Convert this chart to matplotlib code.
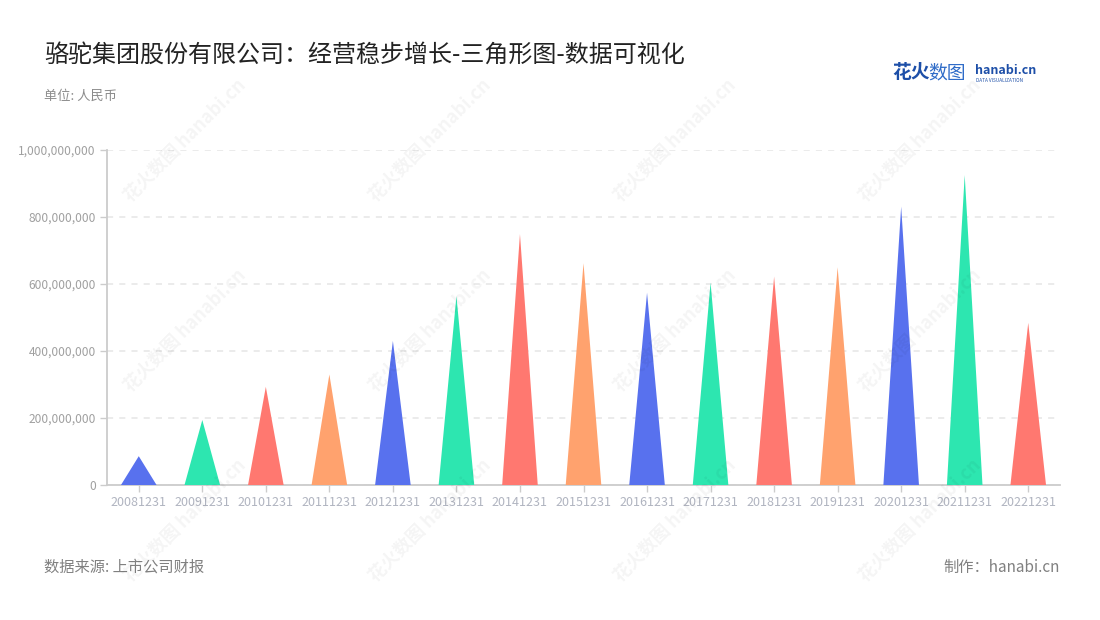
import matplotlib
matplotlib.use("Agg")
import matplotlib.pyplot as plt
from matplotlib.ticker import FuncFormatter

plt.rcParams['font.family'] = ['Noto Sans CJK SC', 'DejaVu Sans']

# 数据
dates = ["20081231", "20091231", "20101231", "20111231", "20121231",
         "20131231", "20141231", "20151231", "20161231", "20171231",
         "20181231", "20191231", "20201231", "20211231", "20221231"]
values = [86e6, 194e6, 293e6, 330e6, 430e6,
          564e6, 749e6, 662e6, 574e6, 604e6,
          622e6, 650e6, 831e6, 925e6, 484e6]
palette = ["#5871ee", "#2de6b0", "#ff7870", "#ffa26e"]

title = "骆驼集团股份有限公司：经营稳步增长-三角形图-数据可视化"
unit = "单位: 人民币"
source = "数据来源: 上市公司财报"
maker = "制作：hanabi.cn"

fig = plt.figure(figsize=(11, 6.2), dpi=100)
ax = fig.add_axes([107 / 1100, 135 / 620, 953 / 1100, 335 / 620])

half = 0.28
for i, v in enumerate(values):
    ax.fill([i - half, i, i + half], [0, v, 0],
            color=palette[i % len(palette)], lw=0, zorder=3)

ax.set_xlim(-0.5, len(dates) - 0.5)
ax.set_ylim(0, 1e9)
ax.set_yticks([0, 2e8, 4e8, 6e8, 8e8, 1e9])
ax.yaxis.set_major_formatter(FuncFormatter(lambda y, _: f"{int(y):,}"))
ax.set_xticks(range(len(dates)))
ax.set_xticklabels(dates)

ax.grid(axis="y", color="#e6e6e6", linestyle=(0, (4, 4)), linewidth=1.1, zorder=0)
ax.set_axisbelow(True)
for s in ["top", "right"]:
    ax.spines[s].set_visible(False)
for s in ["left", "bottom"]:
    ax.spines[s].set_color("#cccccc")
    ax.spines[s].set_linewidth(1.3)
ax.tick_params(axis="both", colors="#cccccc", length=5, width=1)
ax.tick_params(axis="y", labelcolor="#a0a0a0", labelsize=8.6, pad=3)
ax.tick_params(axis="x", labelcolor="#b0b4c0", labelsize=9, pad=3)

# 标题与注释
fig.text(44 / 1100, 1 - 55 / 620, title, fontsize=17.3, color="#222222", va="center")
fig.text(44 / 1100, 1 - 96 / 620, unit, fontsize=9.5, color="#8c8c8c", va="center")
fig.text(44 / 1100, 1 - 567 / 620, source, fontsize=11, color="#808080", va="center")
fig.text(1060 / 1100, 1 - 567 / 620, maker, fontsize=11, color="#808080",
         va="center", ha="right")

# logo
fig.text(892 / 1100, 1 - 73 / 620, "花火", fontsize=13.5, color="#1d4fa8",
         fontweight="bold", va="center")
fig.text(928 / 1100, 1 - 73 / 620, "数图", fontsize=13.5, color="#2f6cc8", va="center")
fig.text(975 / 1100, 1 - 70 / 620, "hanabi.cn", fontsize=9, color="#1d4fa8",
         fontweight="bold", va="center")
fig.text(976 / 1100, 1 - 80 / 620, "DATA VISUALIZATION", fontsize=3.4,
         color="#1d4fa8", va="center")

# 水印
for wx in [185, 430, 675, 920]:
    for wy in [140, 330, 520]:
        fig.text(wx / 1100, 1 - wy / 620, "花火数图 hanabi.cn", fontsize=13,
                 color="#000000", alpha=0.045, rotation=45, ha="center",
                 va="center", fontweight="bold", zorder=10)

fig.savefig("out.png", dpi=100, facecolor="white")
